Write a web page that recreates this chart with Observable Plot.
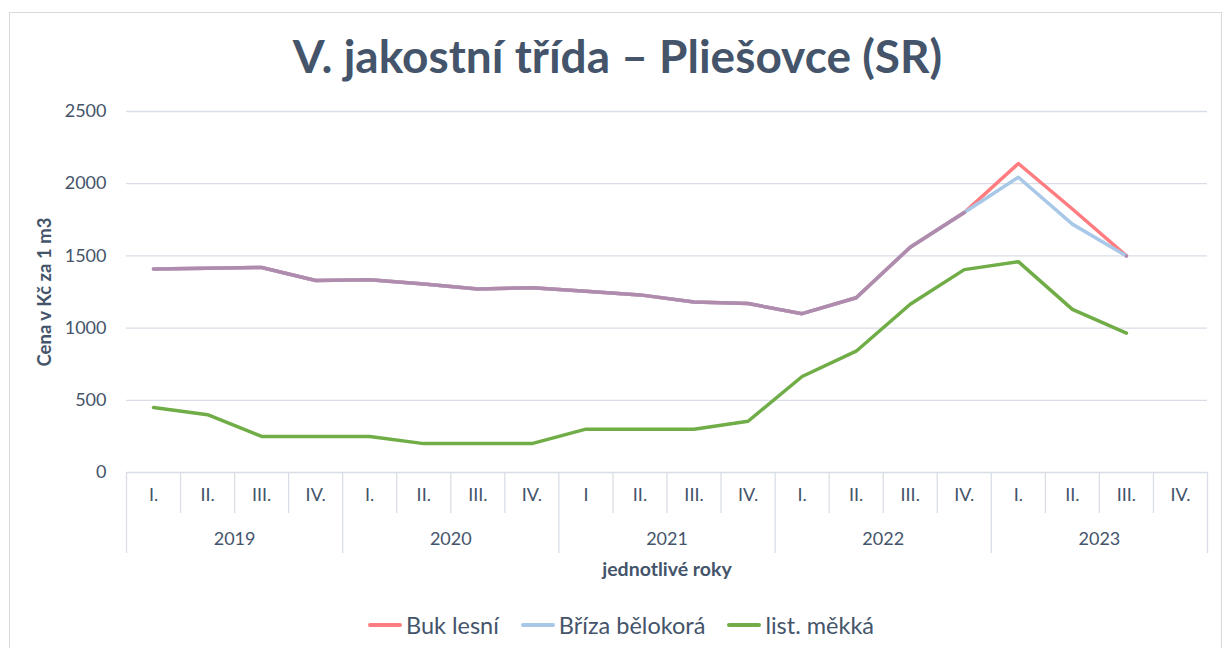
<!DOCTYPE html>
<html>
<head>
<meta charset="utf-8">
<script src="https://cdn.jsdelivr.net/npm/d3@7"></script>
<script src="https://cdn.jsdelivr.net/npm/@observablehq/plot@0.6"></script>
<style>
  body { margin: 0; background: #fff; font-family: Lato, "Open Sans", sans-serif; }
  #wrap { position: relative; width: 1226px; height: 648px; overflow: hidden; background: #fff; }
  #frame { position: absolute; left: 9px; top: 12px; width: 1213px; height: 660px; border: 1px solid #D9D9D9; box-sizing: border-box; }
  #chart { position: absolute; left: 0; top: 0; }
  #title { position: absolute; top: 28px; left: 0; width: 1235px; text-align: center; font-weight: bold; font-size: 46px; color: #44546A; line-height: 1.2; }
  #legend { position: absolute; top: 611px; left: 0; width: 1242px; display: flex; justify-content: center; align-items: center; font-size: 23.5px; color: #44546A; }
  .item { display: flex; align-items: center; margin: 0 11px; }
  .sw { width: 34px; height: 4px; border-radius: 2px; margin-right: 4px; }
</style>
</head>
<body>
<div id="wrap">
  <div id="frame"></div>
  <div id="chart"></div>
  <div id="title"></div>
  <div id="legend"></div>
</div>
<script>
const titleText = "V. jakostní třída – Pliešovce (SR)";
const yLabel = "Cena v Kč za 1 m3";
const xLabel = "jednotlivé roky";
const quarters = ["I.","II.","III.","IV.","I.","II.","III.","IV.","I","II.","III.","IV.","I.","II.","III.","IV.","I.","II.","III.","IV."];
const years = ["2019","2020","2021","2022","2023"];
const seriesNames = ["Buk lesní", "Bříza bělokorá", "list. měkká"];
const seriesColors = ["#FF7C80", "#A9C8E8", "#70AD47"];
const overlapColor = "#AF8BAD";
const bukLesni      = [1410,1415,1420,1330,1335,1305,1270,1280,1255,1230,1180,1170,1100,1210,1560,1800,2140,1825,1500,null];
const brizaBelokora = [1410,1415,1420,1330,1335,1305,1270,1280,1255,1230,1180,1170,1100,1210,1560,1800,2045,1720,1500,null];
const listMekka     = [450,400,250,250,250,200,200,200,300,300,300,355,665,840,1165,1405,1460,1130,965,null];
const yTicks = [0,500,1000,1500,2000,2500];

const textColor = "#44546A";
const gridColor = "#D9DEE6";

const seriesValues = [bukLesni, brizaBelokora, listMekka];
const rows = s => seriesValues[s].map((v, i) => ({i, v}));
const overlap = bukLesni.map((v, i) => ({i, v: (v != null && v === brizaBelokora[i]) ? v : NaN}));
const idx = quarters.map((q, i) => i);
const quarterSeps = d3.range(1, quarters.length).filter(i => i % 4 !== 0);
const yearSeps = d3.range(0, quarters.length + 1, 4);
const yearCenters = years.map((y, k) => ({y, x: k * 4 + 1.5}));

const lineOpts = {x: "i", y: "v", strokeWidth: 3.5, strokeLinecap: "round", strokeLinejoin: "round"};

const plot = Plot.plot({
  width: 1226,
  height: 648,
  marginLeft: 126,
  marginRight: 19,
  marginTop: 111,
  marginBottom: 176,
  style: {background: "transparent", fontFamily: "Lato, 'Open Sans', sans-serif"},
  x: {type: "linear", domain: [-0.5, quarters.length - 0.5], axis: null},
  y: {domain: [0, 2500], ticks: yTicks, tickSize: 0, tickPadding: 20, label: null, tickFormat: d => String(d)},
  marks: [
    Plot.ruleY(yTicks.filter(t => t > 0), {stroke: gridColor, strokeWidth: 1.3}),
    Plot.ruleY([0], {stroke: gridColor, strokeWidth: 1.3}),
    Plot.ruleX(quarterSeps, {x: d => d - 0.5, y1: 0, y2: 0, insetBottom: -41, stroke: gridColor, strokeWidth: 1.3}),
    Plot.ruleX(yearSeps, {x: d => d - 0.5, y1: 0, y2: 0, insetBottom: -81, stroke: gridColor, strokeWidth: 1.3}),
    Plot.text(idx, {x: d => d, text: d => quarters[d], frameAnchor: "bottom", dy: 28, fontSize: 18, fill: textColor}),
    Plot.text(yearCenters, {x: "x", text: "y", frameAnchor: "bottom", dy: 72, fontSize: 18, fill: textColor}),
    Plot.text([xLabel], {frameAnchor: "bottom", dy: 103, fontSize: 19.5, fontWeight: "bold", fill: textColor}),
    Plot.text([yLabel], {frameAnchor: "left", textAnchor: "middle", dx: -81, rotate: -90, fontSize: 18.5, fontWeight: "bold", fill: textColor}),
    Plot.line(rows(0), {...lineOpts, stroke: seriesColors[0]}),
    Plot.line(rows(1), {...lineOpts, stroke: seriesColors[1]}),
    Plot.line(overlap, {...lineOpts, stroke: overlapColor}),
    Plot.line(rows(2), {...lineOpts, stroke: seriesColors[2]})
  ]
});
d3.select(plot).selectAll("g[aria-label='y-axis tick label'] text").attr("fill", textColor).style("font-size", "18px");
d3.select(plot).select("g[aria-label='y-axis tick label']").attr("fill", textColor).attr("font-size", 18);
document.getElementById("chart").appendChild(plot);
document.getElementById("title").textContent = titleText;

const legend = d3.select("#legend");
seriesNames.forEach((n, k) => {
  const it = legend.append("div").attr("class", "item");
  it.append("div").attr("class", "sw").style("background", seriesColors[k]);
  it.append("span").text(n);
});
</script>
</body>
</html>
